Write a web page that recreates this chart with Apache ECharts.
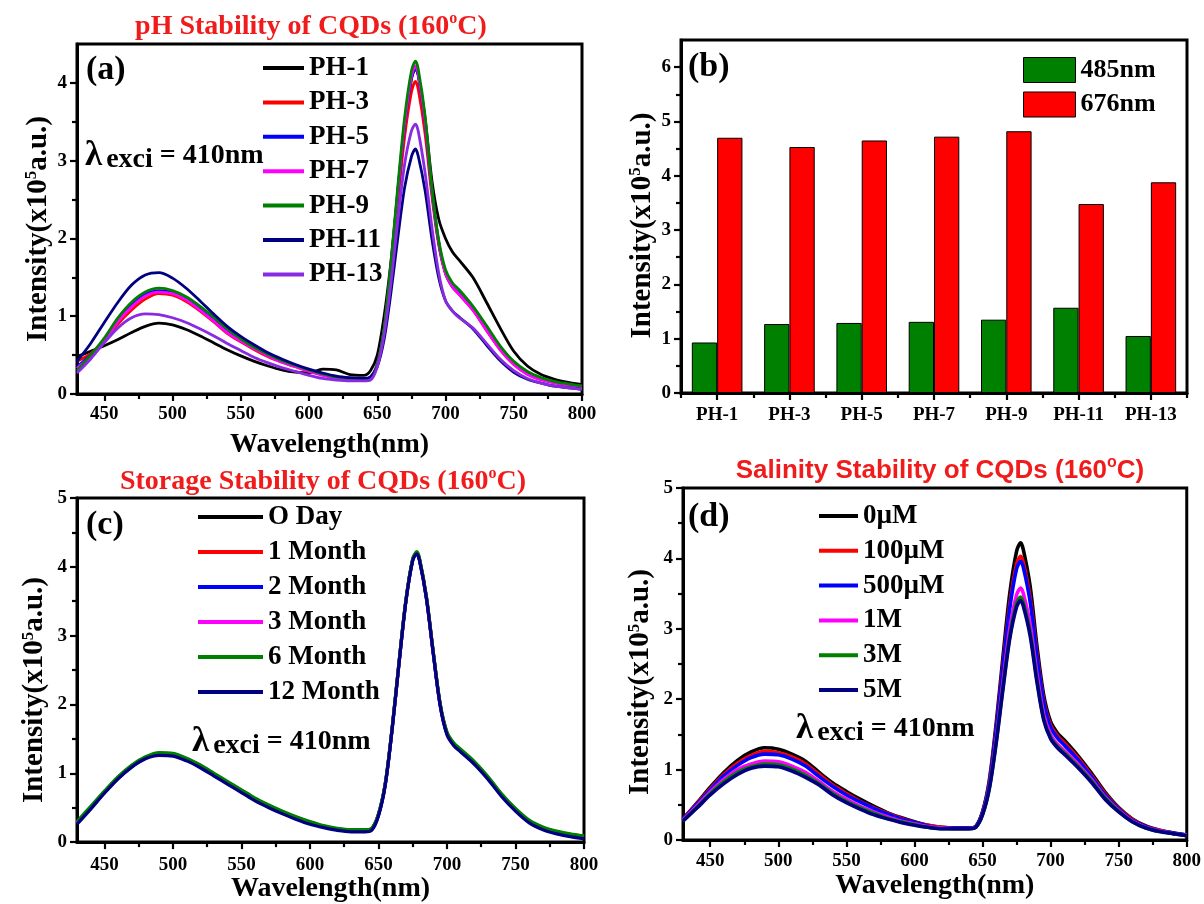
<!DOCTYPE html>
<html><head><meta charset="utf-8">
<script src="https://cdn.jsdelivr.net/npm/echarts@6/dist/echarts.min.js"></script>
<style>html,body{margin:0;padding:0;background:#fff}#c{width:1204px;height:904px}</style>
</head><body><div id="c"></div>
<script>
// ---------- DATA ----------
const WL = [430,440,450,460,470,480,490,500,510,520,530,540,550,560,570,580,590,600,610,620,630,640,645,650,655,660,665,670,675,678,680,685,690,695,700,705,710,720,730,740,750,760,770,780,790,800];
const X_TICKS = [450,500,550,600,650,700,750,800];
const X_MINOR = [475,525,575,625,675,725,775];

// (a) pH stability
const A_NAMES = ['PH-1','PH-3','PH-5','PH-7','PH-9','PH-11','PH-13'];
const PH1  = [0.48,0.55,0.62,0.70,0.79,0.87,0.91,0.89,0.83,0.75,0.66,0.57,0.49,0.42,0.36,0.31,0.28,0.27, 0.32,0.31,0.25,0.24,0.30, 0.50,1.00,1.70,2.60,3.45,4.05,4.18, 4.10,3.55,2.75,2.25,2.00,1.83,1.72, 1.50,1.18,0.85,0.55,0.36,0.25,0.19,0.15,0.12];
const PH3  = [0.42,0.52,0.68,0.90,1.08,1.22,1.29,1.27,1.19,1.07,0.93,0.78,0.67,0.57,0.48,0.41,0.35,0.29, 0.25,0.21,0.19,0.19,0.21, 0.38,0.80,1.55,2.45,3.30,3.88,4.02, 3.92,3.35,2.55,1.92,1.55,1.38,1.28, 1.08,0.82,0.57,0.38,0.26,0.19,0.15,0.12,0.10];
const PH5  = [0.35,0.50,0.70,0.95,1.15,1.28,1.33,1.31,1.22,1.09,0.95,0.80,0.69,0.59,0.50,0.42,0.36,0.30, 0.25,0.21,0.19,0.19,0.21, 0.38,0.82,1.62,2.58,3.45,4.05,4.20, 4.10,3.50,2.62,1.95,1.55,1.38,1.29, 1.09,0.83,0.58,0.39,0.26,0.19,0.15,0.12,0.09];
const PH7  = [0.33,0.49,0.69,0.93,1.12,1.26,1.31,1.29,1.21,1.08,0.94,0.79,0.68,0.58,0.49,0.41,0.35,0.29, 0.24,0.20,0.18,0.18,0.20, 0.37,0.82,1.63,2.60,3.48,4.08,4.22, 4.12,3.52,2.62,1.95,1.55,1.38,1.28, 1.08,0.82,0.57,0.38,0.25,0.18,0.14,0.11,0.09];
const PH9  = [0.30,0.50,0.72,0.98,1.18,1.31,1.36,1.33,1.25,1.13,0.99,0.84,0.71,0.60,0.51,0.43,0.37,0.31, 0.26,0.22,0.20,0.19,0.21, 0.38,0.84,1.68,2.66,3.55,4.15,4.28, 4.18,3.58,2.65,1.98,1.60,1.43,1.34, 1.13,0.88,0.62,0.42,0.29,0.21,0.16,0.13,0.10];
const PH11 = [0.42,0.65,0.92,1.18,1.40,1.53,1.56,1.49,1.36,1.20,1.03,0.87,0.74,0.63,0.53,0.45,0.38,0.32, 0.27,0.23,0.21,0.20,0.22, 0.35,0.70,1.30,2.00,2.65,3.05,3.15, 3.06,2.62,2.00,1.50,1.20,1.07,0.99, 0.84,0.63,0.43,0.28,0.19,0.14,0.10,0.08,0.06];
const PH13 = [0.27,0.45,0.66,0.85,0.98,1.03,1.02,0.98,0.92,0.84,0.75,0.65,0.56,0.47,0.40,0.34,0.29,0.24, 0.20,0.18,0.17,0.17,0.18, 0.35,0.76,1.42,2.22,2.95,3.38,3.47, 3.38,2.85,2.15,1.56,1.20,1.07,0.98, 0.85,0.65,0.45,0.30,0.20,0.14,0.10,0.08,0.06];

// (b) bar chart
const B_CATS = ['PH-1','PH-3','PH-5','PH-7','PH-9','PH-11','PH-13'];
const B_485 = [0.93,1.27,1.29,1.31,1.35,1.57,1.05];
const B_676 = [4.70,4.53,4.65,4.72,4.82,3.48,3.88];

// (c) storage stability
const C_NAMES = ['O Day','1 Month','2 Month','3 Month','6 Month','12 Month'];
const C_D0  = [0.28,0.50,0.72,0.93,1.10,1.22,1.28,1.27,1.20,1.10,0.98,0.86,0.74,0.62,0.52,0.43,0.35,0.28, 0.23,0.19,0.17,0.17,0.19, 0.40,0.85,1.65,2.60,3.50,4.10,4.20, 4.10,3.55,2.75,2.00,1.58,1.42,1.33, 1.15,0.93,0.68,0.47,0.30,0.20,0.14,0.10,0.07];
const C_M1  = [0.28,0.50,0.73,0.94,1.11,1.23,1.29,1.28,1.21,1.11,0.99,0.87,0.75,0.63,0.53,0.44,0.36,0.29, 0.23,0.19,0.17,0.17,0.19, 0.40,0.85,1.66,2.61,3.51,4.11,4.21, 4.11,3.56,2.76,2.01,1.59,1.43,1.34, 1.16,0.94,0.69,0.48,0.31,0.21,0.15,0.11,0.08];
const C_M2  = [0.27,0.49,0.72,0.93,1.10,1.22,1.28,1.27,1.20,1.10,0.98,0.86,0.74,0.62,0.52,0.43,0.35,0.28, 0.22,0.18,0.16,0.16,0.18, 0.39,0.84,1.65,2.60,3.50,4.10,4.19, 4.09,3.54,2.74,1.99,1.57,1.41,1.32, 1.14,0.92,0.67,0.46,0.29,0.19,0.13,0.09,0.06];
const C_M3  = [0.28,0.50,0.72,0.93,1.10,1.22,1.28,1.27,1.20,1.10,0.98,0.86,0.74,0.62,0.52,0.43,0.35,0.28, 0.23,0.19,0.17,0.17,0.19, 0.40,0.85,1.65,2.60,3.50,4.10,4.20, 4.10,3.55,2.75,2.00,1.58,1.42,1.33, 1.15,0.93,0.68,0.47,0.30,0.20,0.14,0.10,0.07];
const C_M6  = [0.30,0.52,0.74,0.95,1.12,1.24,1.30,1.29,1.22,1.12,1.00,0.88,0.76,0.64,0.54,0.45,0.37,0.30, 0.24,0.20,0.18,0.18,0.20, 0.41,0.86,1.67,2.62,3.52,4.12,4.22, 4.12,3.57,2.77,2.02,1.60,1.44,1.35, 1.17,0.95,0.70,0.49,0.32,0.22,0.16,0.12,0.09];
const C_M12 = [0.26,0.48,0.71,0.92,1.09,1.21,1.26,1.25,1.18,1.08,0.96,0.84,0.72,0.60,0.50,0.41,0.33,0.26, 0.21,0.17,0.15,0.15,0.17, 0.38,0.83,1.64,2.59,3.49,4.09,4.19, 4.09,3.54,2.74,1.99,1.56,1.40,1.31, 1.13,0.91,0.66,0.45,0.28,0.18,0.12,0.08,0.05];

// (d) salinity stability
const D_NAMES = ['0\u00b5M','100\u00b5M','500\u00b5M','1M','3M','5M'];
const D_0   = [0.30,0.52,0.75,0.96,1.13,1.25,1.31,1.29,1.22,1.12,0.96,0.81,0.69,0.58,0.48,0.39,0.32,0.26, 0.21,0.18,0.17,0.17,0.19, 0.40,0.85,1.65,2.60,3.50,4.10,4.22, 4.12,3.60,2.75,2.05,1.68,1.52,1.42, 1.20,0.95,0.68,0.46,0.30,0.20,0.14,0.10,0.07];
const D_100 = [0.30,0.51,0.73,0.93,1.09,1.20,1.26,1.24,1.18,1.08,0.93,0.78,0.66,0.55,0.46,0.38,0.31,0.25, 0.21,0.18,0.17,0.17,0.19, 0.39,0.82,1.58,2.49,3.35,3.92,4.03, 3.94,3.44,2.64,1.98,1.63,1.48,1.38, 1.17,0.92,0.66,0.45,0.29,0.19,0.14,0.10,0.07];
const D_500 = [0.29,0.50,0.71,0.91,1.06,1.17,1.22,1.21,1.15,1.05,0.90,0.76,0.64,0.54,0.45,0.37,0.30,0.25, 0.20,0.17,0.17,0.17,0.19, 0.39,0.81,1.56,2.45,3.29,3.85,3.96, 3.87,3.38,2.60,1.95,1.60,1.45,1.35, 1.14,0.90,0.64,0.44,0.28,0.19,0.13,0.10,0.07];
const D_1M  = [0.28,0.48,0.68,0.86,1.00,1.08,1.12,1.11,1.05,0.96,0.83,0.69,0.58,0.48,0.40,0.33,0.27,0.23, 0.19,0.17,0.16,0.16,0.18, 0.37,0.76,1.43,2.24,3.00,3.48,3.58, 3.50,3.06,2.36,1.78,1.50,1.36,1.27, 1.08,0.86,0.61,0.42,0.27,0.18,0.13,0.09,0.07];
const D_3M  = [0.27,0.46,0.66,0.83,0.96,1.04,1.08,1.07,1.01,0.92,0.80,0.66,0.55,0.46,0.38,0.31,0.26,0.22, 0.18,0.16,0.16,0.16,0.18, 0.36,0.74,1.39,2.17,2.90,3.36,3.45, 3.37,2.95,2.28,1.72,1.46,1.33,1.24, 1.05,0.84,0.60,0.41,0.26,0.17,0.12,0.09,0.06];
const D_5M  = [0.27,0.45,0.64,0.80,0.93,1.02,1.05,1.04,0.98,0.89,0.78,0.64,0.53,0.44,0.36,0.30,0.25,0.21, 0.18,0.16,0.16,0.16,0.18, 0.36,0.73,1.37,2.14,2.86,3.31,3.40, 3.32,2.90,2.24,1.70,1.44,1.31,1.22, 1.03,0.82,0.58,0.40,0.26,0.17,0.12,0.09,0.06];

// ---------- STYLE / LAYOUT ----------
const FONT = '"Liberation Serif","Times New Roman",serif';
const SANS = '"Liberation Sans",Arial,sans-serif';
const A_COLORS = ['#000000','#ff0000','#0000ff','#ff00ff','#008000','#000080','#8a2be2'];
const C_COLORS = ['#000000','#ff0000','#0000ff','#ff00ff','#008000','#000080'];
const D_COLORS = ['#000000','#ff0000','#0000ff','#ff00ff','#008000','#000080'];
const RED_T = '#f01c1c';

const grids = [
  {left:77, top:44, width:505, height:350},
  {left:681, top:40, width:506, height:353},
  {left:77, top:498, width:507, height:350},
  {left:683, top:488, width:504, height:352}
].map(g => Object.assign({show:true, borderColor:'#000', borderWidth:3, backgroundColor:'transparent', containLabel:false}, g));

const tickLine = {color:'#000', width:2.2};
const labelStyle = {color:'#000', fontSize:19, fontWeight:'bold', fontFamily:FONT};
const nameStyle = {color:'#000', fontSize:28, fontWeight:'bold', fontFamily:FONT};
function yNameStyle(shift) {
  return Object.assign({}, nameStyle, {fontSize:29, lineHeight:30, padding:[0, 2*shift, 0, 0],
    rich:{sup:{fontSize:17, fontWeight:'bold', fontFamily:FONT, color:'#000', lineHeight:15, verticalAlign:'top'}}});
}

function wlAxes(g, gap, margin) {
  return [{
    gridIndex:g, type:'value', position:'bottom', min:430, max:800,
    axisLine:{show:true, onZero:false, lineStyle:{color:'#000', width:3}},
    axisTick:{show:true, customValues:X_TICKS, length:7, lineStyle:tickLine},
    axisLabel:Object.assign({customValues:X_TICKS, margin:margin}, labelStyle),
    splitLine:{show:false},
    name:'Wavelength(nm)', nameLocation:'middle', nameGap:gap, nameTextStyle:nameStyle
  },{
    gridIndex:g, type:'value', position:'bottom', min:430, max:800,
    axisLine:{show:false, onZero:false}, axisTick:{show:true, customValues:X_MINOR, length:5, lineStyle:tickLine},
    axisLabel:{show:false}, splitLine:{show:false}
  }];
}
function yAxes(g, max, majors, minors, gap, shift) {
  return [{
    gridIndex:g, type:'value', position:'left', min:0, max:max,
    axisLine:{show:true, onZero:false, lineStyle:{color:'#000', width:3}},
    axisTick:{show:true, customValues:majors, length:7, lineStyle:tickLine},
    axisLabel:Object.assign({customValues:majors, margin:10}, labelStyle),
    splitLine:{show:false},
    name:'Intensity(x10{sup|5}a.u.)', nameLocation:'middle', nameGap:gap, nameTextStyle:yNameStyle(shift)
  },{
    gridIndex:g, type:'value', position:'left', min:0, max:max,
    axisLine:{show:false, onZero:false}, axisTick:{show:true, customValues:minors, length:5, lineStyle:tickLine},
    axisLabel:{show:false}, splitLine:{show:false}
  }];
}

const xAxis = [].concat(
  wlAxes(0, 37, 11),
  [{
    gridIndex:1, type:'category', position:'bottom', data:B_CATS,
    axisLine:{show:true, onZero:false, lineStyle:{color:'#000', width:3}},
    axisTick:{show:true, alignWithLabel:true, length:7, lineStyle:tickLine},
    axisLabel:Object.assign({margin:13}, labelStyle), splitLine:{show:false}
  },{
    gridIndex:1, type:'category', position:'bottom', data:B_CATS,
    axisLine:{show:false, onZero:false}, axisTick:{show:true, length:5, lineStyle:tickLine},
    axisLabel:{show:false}, splitLine:{show:false}
  }],
  wlAxes(2, 31, 13),
  wlAxes(3, 30, 12)
);
const yAxis = [].concat(
  yAxes(0, 4.5, [0,1,2,3,4], [0.5,1.5,2.5,3.5], 19, 10),
  yAxes(1, 6.5, [0,1,2,3,4,5,6], [0.5,1.5,2.5,3.5,4.5,5.5], 17, 9),
  yAxes(2, 5, [0,1,2,3,4,5], [0.5,1.5,2.5,3.5,4.5], 27, 20),
  yAxes(3, 5, [0,1,2,3,4,5], [0.5,1.5,2.5,3.5,4.5], 27, 18)
);

function lineSeries(names, arrays, colors, axisIdx, width) {
  return names.map((n, i) => ({
    type:'line', name:n, xAxisIndex:axisIdx, yAxisIndex:axisIdx,
    data: WL.map((w, k) => [w, arrays[i][k]]),
    symbol:'none', smooth:0.3, animation:false,
    lineStyle:{color:colors[i], width:width}, itemStyle:{color:colors[i]}
  }));
}

const series = [].concat(
  lineSeries(A_NAMES, [PH1,PH3,PH5,PH7,PH9,PH11,PH13], A_COLORS, 0, 2.8),
  [
    {type:'bar', name:'485nm', xAxisIndex:2, yAxisIndex:2, data:B_485, barGap:'0%', barCategoryGap:'30%', animation:false,
     itemStyle:{color:'#008000', borderColor:'#000', borderWidth:1}},
    {type:'bar', name:'676nm', xAxisIndex:2, yAxisIndex:2, data:B_676, barGap:'0%', barCategoryGap:'30%', animation:false,
     itemStyle:{color:'#ff0000', borderColor:'#000', borderWidth:1}}
  ],
  lineSeries(C_NAMES, [C_D0,C_M1,C_M2,C_M3,C_M6,C_M12], C_COLORS, 4, 3.2),
  lineSeries(D_NAMES, [D_0,D_100,D_500,D_1M,D_3M,D_5M], D_COLORS, 6, 3.6)
);

const legText = {color:'#000', fontSize:27, fontWeight:'bold', fontFamily:FONT, lineHeight:28};
const legend = [
  {data:A_NAMES, orient:'vertical', left:258, top:49, itemWidth:41, itemHeight:4, itemGap:6.4, icon:'rect', textStyle:legText, selectedMode:false},
  {data:['485nm','676nm'], orient:'vertical', left:1018, top:52, itemWidth:52, itemHeight:25, itemGap:8.5, icon:'rect',
   itemStyle:{borderColor:'#000', borderWidth:1}, textStyle:{color:'#000', fontSize:26, fontWeight:'bold', fontFamily:FONT, lineHeight:25}, selectedMode:false},
  {data:C_NAMES, orient:'vertical', left:193, top:498, itemWidth:65, itemHeight:4, itemGap:7, icon:'rect', textStyle:legText, selectedMode:false},
  {data:D_NAMES, orient:'vertical', left:814, top:497, itemWidth:39, itemHeight:4, itemGap:6.8, icon:'rect', textStyle:legText, selectedMode:false}
];

function titleText(x, y, txt, fam, size) {
  return {type:'text', x:x, y:y, z:100, style:{
    text:txt, fill:RED_T, fontSize:size, fontWeight:'bold', fontFamily:fam, lineHeight:32,
    align:'center', verticalAlign:'middle',
    rich:{sup:{fontSize:16, fontWeight:'bold', fontFamily:fam, fill:RED_T, lineHeight:15, verticalAlign:'top'}}
  }};
}
function panelLabel(x, y, txt) {
  return {type:'text', x:x, y:y, z:100, style:{text:txt, fill:'#000', fontSize:34, fontWeight:'bold', fontFamily:FONT, verticalAlign:'middle', align:'left'}};
}
function lambdaText(x, y) {
  return {type:'text', x:x, y:y, z:100, style:{
    text:'{l|\u03bb}{s|exci}{t| = 410nm}', fill:'#000', fontSize:28, fontWeight:'bold', fontFamily:FONT,
    align:'left', verticalAlign:'middle',
    rich:{
      l:{fontSize:35, fontWeight:'bold', fontFamily:FONT, fill:'#000', lineHeight:36, verticalAlign:'middle'},
      s:{fontSize:28, fontWeight:'bold', fontFamily:FONT, fill:'#000', lineHeight:28, verticalAlign:'bottom', padding:[0,0,0,4]},
      t:{fontSize:28, fontWeight:'bold', fontFamily:FONT, fill:'#000', lineHeight:36, verticalAlign:'middle'}
    }
  }};
}

const graphic = [
  titleText(311, 27, 'pH Stability of CQDs (160{sup|o}C)', FONT, 28),
  titleText(323, 482, 'Storage Stability of CQDs (160{sup|o}C)', FONT, 28),
  titleText(940, 471, 'Salinity Stability of CQDs (160{sup|o}C)', SANS, 26),
  panelLabel(86, 70, '(a)'),
  panelLabel(688, 67, '(b)'),
  panelLabel(86, 525, '(c)'),
  panelLabel(688, 517, '(d)'),
  lambdaText(85, 156),
  lambdaText(192, 742),
  lambdaText(796, 729)
];

const chart = echarts.init(document.getElementById('c'), null, {renderer:'canvas'});
chart.setOption({
  backgroundColor:'#ffffff', animation:false,
  grid:grids, xAxis:xAxis, yAxis:yAxis, series:series, legend:legend, graphic:graphic
});
</script></body></html>
